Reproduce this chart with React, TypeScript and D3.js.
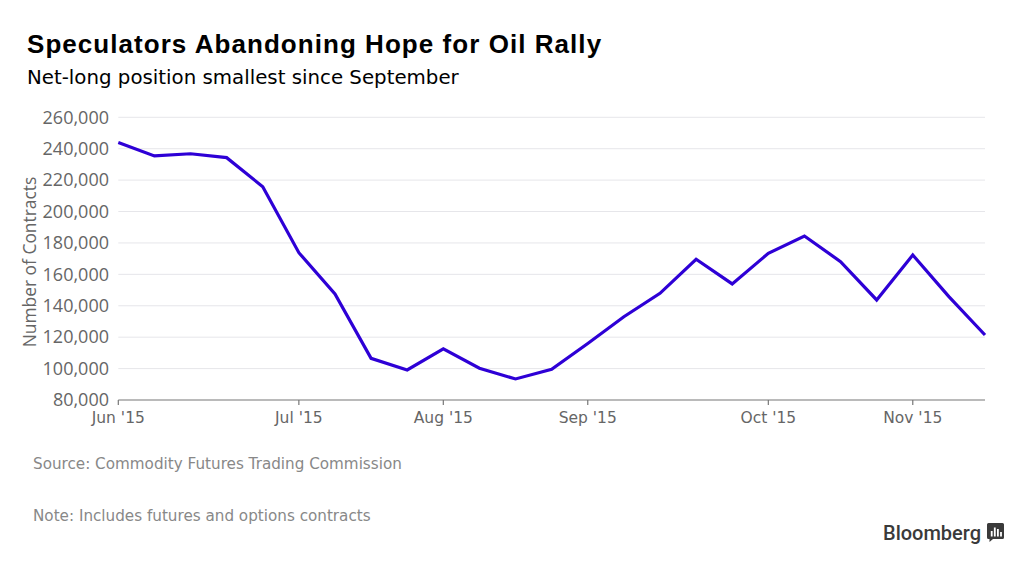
import React from "react";
import * as d3 from "d3";

const dates: string[] = [
  "2015-06-02", "2015-06-09", "2015-06-16", "2015-06-23", "2015-06-30",
  "2015-07-07", "2015-07-14", "2015-07-21", "2015-07-28",
  "2015-08-04", "2015-08-11", "2015-08-18", "2015-08-25",
  "2015-09-01", "2015-09-08", "2015-09-15", "2015-09-22", "2015-09-29",
  "2015-10-06", "2015-10-13", "2015-10-20", "2015-10-27",
  "2015-11-03", "2015-11-10", "2015-11-17",
];
const netLong: number[] = [
  244000, 235400, 236800, 234300, 215800,
  173800, 147500, 106500, 99100,
  112500, 100200, 93400, 99500,
  116000, 133000, 147900, 169600, 153900,
  173400, 184400, 168100, 143700,
  172300, 145800, 121400,
];
const yTicks: number[] = [80000, 100000, 120000, 140000, 160000, 180000, 200000, 220000, 240000, 260000];
const monthTickLabels: string[] = ["Jun '15", "Jul '15", "Aug '15", "Sep '15", "Oct '15", "Nov '15"];

const title = "Speculators Abandoning Hope for Oil Rally";
const subtitle = "Net-long position smallest since September";
const source = "Source: Commodity Futures Trading Commission";
const note = "Note: Includes futures and options contracts";

export default function App() {
  const W = 1024, H = 565;
  const x = d3.scaleLinear().domain([0, dates.length - 1]).range([118.3, 985]);
  const y = d3.scaleLinear().domain([80000, 260000]).range([400, 117.3]);

  // first data point of each month gets a tick
  const monthTicks: { i: number; label: string }[] = [];
  let prevMonth = "";
  dates.forEach((d, i) => {
    const m = d.slice(0, 7);
    if (m !== prevMonth) {
      monthTicks.push({ i, label: monthTickLabels[monthTicks.length] });
      prevMonth = m;
    }
  });

  const line = d3
    .line<number>()
    .x((_, i) => x(i))
    .y((v) => y(v));

  const fmt = d3.format(",");
  const xL = 118.3, xR = 985;

  return (
    <svg
      width={W}
      height={H}
      viewBox={`0 0 ${W} ${H}`}
      style={{ position: "absolute", left: 0, top: 0, background: "#fff" }}
    >
      <rect x={0} y={0} width={W} height={H} fill="#fff" />
      <text x={27} y={53} fontFamily="'Liberation Sans', Arial, sans-serif" fontWeight={700} fontSize={26} letterSpacing={1.05} fill="#000">
        {title}
      </text>
      <text x={27} y={84} fontFamily="'DejaVu Sans', sans-serif" fontSize={19.8} fill="#000">
        {subtitle}
      </text>

      {/* gridlines */}
      {yTicks.filter((t) => t !== 80000).map((t) => (
        <line key={t} x1={xL} x2={xR} y1={y(t)} y2={y(t)} stroke="#e6e6ea" strokeWidth={1} />
      ))}

      {/* y tick labels */}
      {yTicks.map((t) => (
        <text
          key={t}
          x={109}
          y={y(t)}
          dy="0.35em"
          textAnchor="end"
          fontFamily="'Open Sans', sans-serif"
          fontSize={18}
          fill="#666"
        >
          {fmt(t)}
        </text>
      ))}

      <text
        transform={`translate(36,262) rotate(-90)`}
        textAnchor="middle"
        fontFamily="'Open Sans', sans-serif"
        fontSize={17.4}
        fill="#666"
      >
        Number of Contracts
      </text>

      {/* x axis */}
      <line x1={xL} x2={xR} y1={400} y2={400} stroke="#777" strokeWidth={1.2} />
      {monthTicks.map((m) => (
        <g key={m.i}>
          <line x1={x(m.i)} x2={x(m.i)} y1={400} y2={405} stroke="#777" strokeWidth={1.2} />
          <text
            x={x(m.i)}
            y={423}
            textAnchor="middle"
            fontFamily="'DejaVu Sans', sans-serif"
            fontSize={15.5}
            fill="#666"
          >
            {m.label}
          </text>
        </g>
      ))}

      {/* data line */}
      <path d={line(netLong) || ""} fill="none" stroke="#2e00d6" strokeWidth={3.2} strokeLinejoin="miter" />

      {/* footer */}
      <text x={33} y={469} fontFamily="'DejaVu Sans', sans-serif" fontSize={15.2} fill="#888">
        {source}
      </text>
      <text x={33} y={521} fontFamily="'DejaVu Sans', sans-serif" fontSize={15.2} fill="#888">
        {note}
      </text>

      {/* Bloomberg logo */}
      <text x={883} y={540} fontFamily="Roboto, 'Liberation Sans', sans-serif" fontWeight={500} fontSize={20} fill="#3a3a3a">
        Bloomberg
      </text>
      <g transform="translate(987,523)">
        <path d="M1.5,0 H15.5 a1.5,1.5 0 0 1 1.5,1.5 V14.5 a1.5,1.5 0 0 1 -1.5,1.5 H6 L2.5,19 V16 H1.5 a1.5,1.5 0 0 1 -1.5,-1.5 V1.5 a1.5,1.5 0 0 1 1.5,-1.5 Z" fill="#3a3a3a" />
        <rect x={3.8} y={8} width={1.8} height={5.5} fill="#fff" />
        <rect x={6.9} y={4.5} width={1.8} height={9} fill="#fff" />
        <rect x={10} y={6} width={1.8} height={7.5} fill="#fff" />
        <rect x={13.1} y={9} width={1.8} height={4.5} fill="#fff" />
      </g>
    </svg>
  );
}
